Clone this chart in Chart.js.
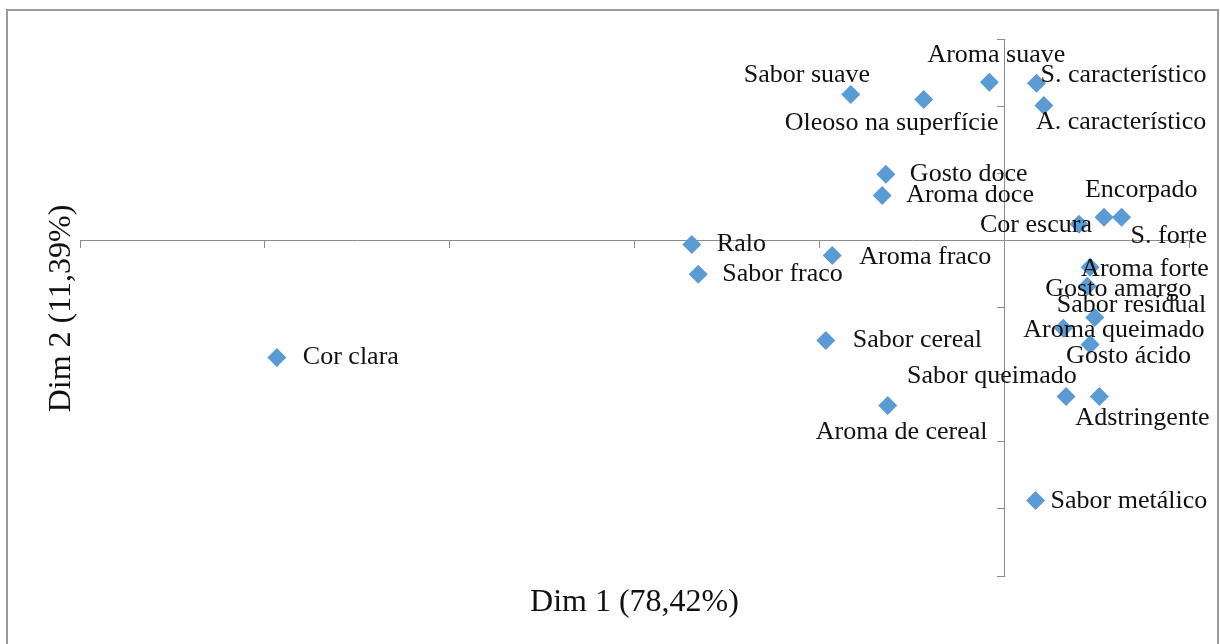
<!DOCTYPE html>
<html>
<head>
<meta charset="utf-8">
<script src="https://cdn.jsdelivr.net/npm/chart.js@4.4.1/dist/chart.umd.min.js"></script>
<style>
  html, body { margin: 0; padding: 0; background: #fff; }
  #wrap { width: 1220px; height: 644px; position: relative; }
</style>
</head>
<body>
<div id="wrap"><canvas id="chart" width="1220" height="644"></canvas></div>
<script>
// sensory attributes and their coordinates on the two first dimensions
const attributes = [
  'Cor clara', 'Ralo', 'Sabor fraco', 'Aroma fraco', 'Sabor cereal', 'Aroma de cereal',
  'Sabor suave', 'Oleoso na superfície', 'Aroma suave', 'S. característico', 'A. característico',
  'Gosto doce', 'Aroma doce', 'Cor escura', 'Encorpado', 'S. forte', 'Aroma forte',
  'Gosto amargo', 'Sabor residual', 'Aroma queimado', 'Gosto ácido', 'Sabor queimado',
  'Adstringente', 'Sabor metálico'
]
const dim1 = [
  -0.787, -0.338, -0.331, -0.186, -0.193, -0.126,
  -0.166, -0.087, -0.016, 0.035, 0.043,
  -0.128, -0.132, 0.081, 0.108, 0.127, 0.093,
  0.090, 0.098, 0.064, 0.093, 0.067,
  0.103, 0.034
]
const dim2 = [
  -0.349, -0.012, -0.101, -0.045, -0.298, -0.492,
  0.435, 0.420, 0.471, 0.468, 0.402,
  0.197, 0.134, 0.048, 0.069, 0.069, -0.080,
  -0.137, -0.230, -0.262, -0.310, -0.465,
  -0.465, -0.775
]
const xTitle = 'Dim 1 (78,42%)'
const yTitle = 'Dim 2 (11,39%)'
const xRange = [-1, 0.2]
const yRange = [-1, 0.6]
const tickStep = 0.2

// where each data label sits relative to its marker (left edge of text, vertical middle)
const labelOffsets = {
  'Cor clara': [26, 0], 'Ralo': [25, 0], 'Sabor fraco': [24, 0], 'Aroma fraco': [27, 2],
  'Sabor cereal': [27, 0], 'Aroma de cereal': [-72, 27], 'Sabor suave': [-107, -19],
  'Oleoso na superfície': [-139, 24], 'Aroma suave': [-62, -27], 'S. característico': [4, -8],
  'A. característico': [-8, 17], 'Gosto doce': [24, 0], 'Aroma doce': [24, 0],
  'Cor escura': [-99, 1], 'Encorpado': [-19, -27], 'S. forte': [9, 19], 'Aroma forte': [-9, 2],
  'Gosto amargo': [-42, 3], 'Sabor residual': [-38, -12], 'Aroma queimado': [-40, 2],
  'Gosto ácido': [-24, 12], 'Sabor queimado': [-159, -20], 'Adstringente': [-24, 22],
  'Sabor metálico': [15, 1]
}

const points = attributes.map((name, i) => ({ x: dim1[i], y: dim2[i], label: name }))

const serif = "'Liberation Serif', 'Times New Roman', serif"

const decorPlugin = {
  id: 'decor',
  beforeDraw(chart) {
    const ctx = chart.ctx
    ctx.save()
    ctx.fillStyle = '#fff'
    ctx.fillRect(0, 0, chart.width, chart.height)
    ctx.strokeStyle = '#9a9a9a'
    ctx.lineWidth = 2
    ctx.strokeRect(7, 10, 1211, 700)
    ctx.restore()
  },
  afterDatasetsDraw(chart) {
    const ctx = chart.ctx
    const meta = chart.getDatasetMeta(0)
    ctx.save()
    ctx.fillStyle = '#111'
    ctx.font = '26px ' + serif
    ctx.textAlign = 'left'
    ctx.textBaseline = 'middle'
    meta.data.forEach((el, i) => {
      const name = attributes[i]
      const off = labelOffsets[name] || [24, 0]
      ctx.fillText(name, el.x + off[0], el.y + off[1])
    })

    const area = chart.chartArea
    ctx.font = '32px ' + serif
    ctx.textAlign = 'center'
    ctx.fillText(xTitle, (area.left + area.right) / 2, area.bottom + 27)
    ctx.translate(62, (area.top + area.bottom) / 2 + 1)
    ctx.rotate(-Math.PI / 2)
    ctx.fillText(yTitle, 0, 0)
    ctx.restore()
  }
}

const axisColor = '#8c8c8c'

new Chart(document.getElementById('chart'), {
  type: 'scatter',
  data: {
    datasets: [{
      data: points,
      pointStyle: 'rectRot',
      pointRadius: 9.5,
      pointHoverRadius: 9.5,
      pointBorderWidth: 0,
      backgroundColor: '#5b9bd5',
      borderColor: '#5b9bd5'
    }]
  },
  options: {
    responsive: false,
    animation: false,
    devicePixelRatio: 1,
    layout: { padding: { left: 80, right: 31, top: 39, bottom: 68 } },
    plugins: {
      legend: { display: false },
      tooltip: { enabled: false }
    },
    scales: {
      x: {
        type: 'linear',
        min: xRange[0],
        max: xRange[1],
        position: { y: 0 },
        ticks: { display: false, stepSize: tickStep },
        grid: { drawOnChartArea: false, drawTicks: true, tickLength: 7, color: axisColor },
        border: { display: true, color: axisColor, width: 1 }
      },
      y: {
        type: 'linear',
        min: yRange[0],
        max: yRange[1],
        position: { x: 0 },
        ticks: { display: false, stepSize: tickStep },
        grid: { drawOnChartArea: false, drawTicks: true, tickLength: 7, color: axisColor },
        border: { display: true, color: axisColor, width: 1 }
      }
    }
  },
  plugins: [decorPlugin]
})
</script>
</body>
</html>
